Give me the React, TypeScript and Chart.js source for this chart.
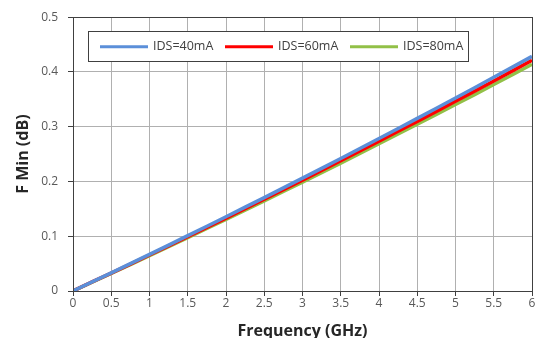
import React, { useEffect, useRef } from "react";
import { Chart, registerables } from "chart.js";

Chart.register(...registerables);

const freqGHz = [0, 0.25, 0.5, 0.75, 1, 1.25, 1.5, 1.75, 2, 2.25, 2.5, 2.75, 3, 3.25, 3.5, 3.75, 4, 4.25, 4.5, 4.75, 5, 5.25, 5.5, 5.75, 6];
const ids40 = [0, 0.0166, 0.0332, 0.05, 0.0669, 0.0839, 0.101, 0.1183, 0.1356, 0.1531, 0.1706, 0.1883, 0.2061, 0.224, 0.242, 0.2602, 0.2784, 0.2968, 0.3152, 0.3338, 0.3525, 0.3713, 0.3902, 0.4093, 0.4284];
const ids60 = [0, 0.0168, 0.0326, 0.0491, 0.0657, 0.0824, 0.0992, 0.1162, 0.1332, 0.1504, 0.1676, 0.185, 0.2025, 0.2201, 0.2378, 0.2557, 0.2736, 0.2917, 0.3098, 0.3281, 0.3465, 0.365, 0.3836, 0.4024, 0.4212];
const ids80 = [0, 0.016, 0.032, 0.0482, 0.0645, 0.0809, 0.0974, 0.1141, 0.1308, 0.1477, 0.1646, 0.1817, 0.1989, 0.2162, 0.2336, 0.2512, 0.2688, 0.2866, 0.3044, 0.3224, 0.3405, 0.3587, 0.377, 0.3955, 0.414];
const seriesLabels = ["IDS=40mA", "IDS=60mA", "IDS=80mA"];
const seriesColors = ["#5b8fd9", "#ff0000", "#92c047"];
const xTitle = "Frequency (GHz)";
const yTitle = "F Min (dB)";

const FONT = "'Open Sans', 'Liberation Sans', sans-serif";

const frameAndLegend = {
  id: "frameAndLegend",
  afterDatasetsDraw(chart: any) {
    const { ctx, chartArea } = chart;
    ctx.save();
    ctx.strokeStyle = "#404040";
    ctx.lineWidth = 1;
    ctx.strokeRect(
      Math.round(chartArea.left) + 0.5,
      Math.round(chartArea.top) + 0.5,
      Math.round(chartArea.right - chartArea.left),
      Math.round(chartArea.bottom - chartArea.top)
    );
    const bx = chartArea.left + 15;
    const by = chartArea.top + 14;
    const bw = 380;
    const bh = 30;
    ctx.fillStyle = "#ffffff";
    ctx.fillRect(bx, by, bw, bh);
    ctx.strokeStyle = "#404040";
    ctx.strokeRect(Math.round(bx) + 0.5, Math.round(by) + 0.5, bw, bh);
    ctx.font = "12.5px " + FONT;
    ctx.textBaseline = "middle";
    const cy = by + bh / 2 + 0.5;
    chart.data.datasets.forEach((ds: any, i: number) => {
      const x0 = bx + 12 + i * 125;
      ctx.strokeStyle = ds.borderColor;
      ctx.lineWidth = 3;
      ctx.beginPath();
      ctx.moveTo(x0, cy);
      ctx.lineTo(x0 + 48, cy);
      ctx.stroke();
      ctx.fillStyle = "#404040";
      ctx.fillText(ds.label, x0 + 53, cy);
    });
    ctx.restore();
  },
};

export default function App() {
  const ref = useRef<HTMLCanvasElement>(null);
  useEffect(() => {
    if (!ref.current) return;
    const mk = (vals: number[]) => freqGHz.map((f, i) => ({ x: f, y: vals[i] }));
    const chart = new Chart(ref.current, {
      type: "line",
      data: {
        datasets: [ids40, ids60, ids80].map((vals, i) => ({
          label: seriesLabels[i],
          data: mk(vals),
          borderColor: seriesColors[i],
          backgroundColor: seriesColors[i],
          borderWidth: 3.5,
          pointRadius: 0,
          tension: 0,
        })),
      },
      options: {
        animation: false,
        responsive: false,
        maintainAspectRatio: false,
        layout: { padding: { left: 0, top: 13, right: 9, bottom: 0 } },
        plugins: { legend: { display: false }, tooltip: { enabled: false } },
        scales: {
          x: {
            type: "linear",
            min: 0,
            max: 6,
            ticks: {
              stepSize: 0.5,
              color: "#595959",
              font: { family: FONT, size: 12 },
              padding: 0,
              maxRotation: 0,
              callback: (v: any) => String(Math.round(Number(v) * 10) / 10),
            },
            grid: { color: "#b0b0b0", tickLength: 5, tickColor: "#404040" },
            border: { color: "#404040" },
            title: { display: true, text: xTitle, color: "#262626", font: { family: FONT, size: 16, weight: "bold" }, padding: { top: 0, bottom: -3 } },
            afterFit: (s: any) => { s.height = 47; },
          },
          y: {
            min: 0,
            max: 0.5,
            ticks: {
              stepSize: 0.1,
              color: "#595959",
              font: { family: FONT, size: 12 },
              padding: 10,
              callback: (v: any) => String(Math.round(Number(v) * 10) / 10),
            },
            grid: { color: "#b0b0b0", tickLength: 5, tickColor: "#404040" },
            border: { color: "#404040" },
            title: { display: true, text: yTitle, color: "#262626", font: { family: FONT, size: 16, weight: "bold" }, padding: { top: 14, bottom: 0 } },
            afterFit: (s: any) => { s.width = 73; },
          },
        },
      },
      plugins: [frameAndLegend],
    });
    return () => chart.destroy();
  }, []);
  return (
    <div style={{ position: "fixed", left: 0, top: 0, width: 541, height: 338, background: "#fff" }}>
      <canvas ref={ref} width={541} height={338} style={{ width: 541, height: 338 }} />
    </div>
  );
}
